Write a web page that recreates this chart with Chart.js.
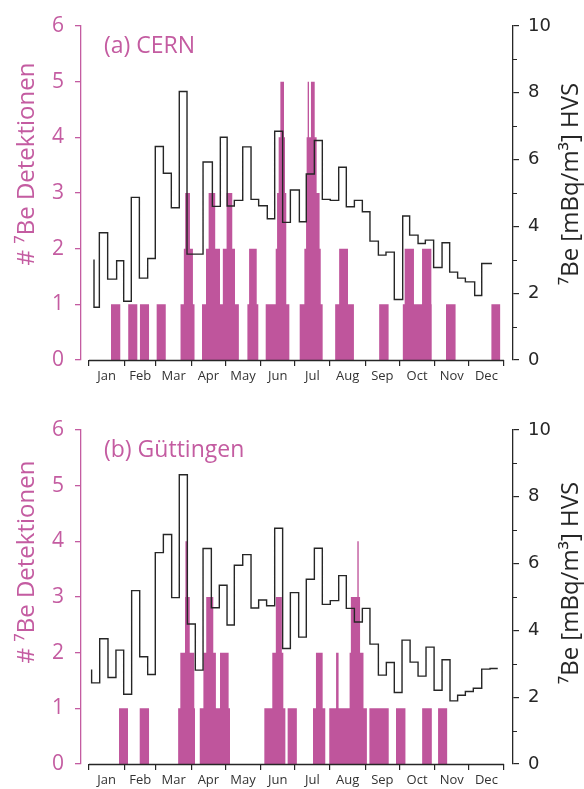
<!DOCTYPE html>
<html>
<head>
<meta charset="utf-8">
<title>7Be Detektionen — CERN / Güttingen</title>
<script src="https://cdn.jsdelivr.net/npm/chart.js@4.4.1/dist/chart.umd.min.js"></script>
<style>
  html, body { margin: 0; padding: 0; background: #fff; overflow: hidden; }
  .panel { position: absolute; left: 0; width: 584px; height: 394px; }
  #panelA { top: 0; }
  #panelB { top: 404px; }
</style>
</head>
<body>
<div class="panel" id="panelA"><canvas id="chartA" width="584" height="394"></canvas></div>
<div class="panel" id="panelB"><canvas id="chartB" width="584" height="394"></canvas></div>

<script>
/* ══════════════════════════════════════════════
   7Be — detections per day (bars) and HVS
   activity (step line), two sites, one year
   ══════════════════════════════════════════════ */

// ── Axis data ──
const monthNames = ['Jan', 'Feb', 'Mar', 'Apr', 'May', 'Jun', 'Jul', 'Aug', 'Sep', 'Oct', 'Nov', 'Dec'];
const monthStarts = [0, 31, 59, 90, 120, 151, 181, 212, 243, 273, 304, 334, 365];
const countTicks = [0, 1, 2, 3, 4, 5, 6];
const hvsTicks = [0, 2, 4, 6, 8, 10];

// ── (a) CERN — HVS weekly values (day = end of sampling week) ──
const cernHvsDays = [4.4, 9.1, 16.4, 24.3, 30.5, 37.2, 44.3, 51.6, 58.3, 65.4, 72.4, 79.4, 86.2, 93.3, 100.3, 108.5, 115.5, 121.5, 127.8, 135.2,
  142.5, 149.2, 156.8, 163.3, 170.3, 177.1, 185.0, 191.1, 198.2, 205.2, 212.2, 219.6, 226.3, 233.4, 240.4, 247.1, 254.5, 261.2, 268.5, 275.9,
  282.0, 289.4, 295.8, 303.1, 310.5, 317.2, 324.2, 331.0, 339.2, 345.4, 354.4];
const cernHvsValues = [3.01, 1.58, 3.81, 2.42, 2.97, 1.76, 4.87, 2.45, 3.04, 6.39, 5.59, 4.56, 8.04, 3.17, 3.17, 5.93, 4.6, 6.67, 4.61, 4.78,
  6.38, 4.81, 4.62, 4.23, 6.85, 4.12, 5.09, 4.14, 5.57, 6.57, 4.81, 4.78, 5.77, 4.59, 4.78, 4.44, 3.56, 3.14, 3.23, 1.81,
  4.31, 3.74, 3.49, 3.59, 2.77, 3.51, 2.63, 2.45, 2.34, 1.93, 2.89];

// ── (a) CERN — number of detections (value holds from day until next change) ──
const cernCountDays = [19.3, 27.5, 34.5, 42.5, 44.8, 52.8, 59.5, 67.5, 80.5, 83.4, 84.6, 88.8, 91.4, 92.8, 99.4, 102.9, 105.2, 111.0, 115.2, 117.7,
  121.0, 126.0, 128.4, 131.8, 139.3, 140.8, 147.5, 148.9, 155.4, 164.2, 165.4, 166.8, 168.3, 171.5, 172.4, 173.5, 176.2, 185.3, 189.4, 190.9,
  191.4, 192.3, 193.5, 195.2, 198.5, 200.2, 202.8, 203.8, 205.5, 216.5, 220.0, 227.8, 233.0, 255.2, 263.5, 276.0, 277.6, 285.8, 292.9, 301.1,
  301.4, 314.0, 322.4, 353.9, 361.8];
const cernCounts = [1, 0, 1, 0, 1, 0, 1, 0, 1, 2, 3, 2, 1, 0, 1, 2, 3, 2, 1, 2,
  3, 2, 1, 0, 1, 2, 1, 0, 1, 2, 3, 4, 5, 4, 3, 1, 0, 1, 2, 3,
  4, 5, 4, 5, 4, 3, 2, 1, 0, 1, 2, 1, 0, 1, 0, 1, 2, 1, 2, 1,
  0, 1, 0, 1, 0];

// ── (b) Güttingen — HVS weekly values ──
const guettHvsDays = [2.3, 9.4, 16.7, 23.7, 30.5, 37.5, 44.6, 51.6, 58.3, 65.4, 72.7, 79.4, 86.5, 93.5, 100.3, 107.6, 114.6, 121.4, 127.8, 135.2,
  142.5, 149.2, 156.2, 163.3, 170.3, 177.1, 184.4, 191.1, 198.2, 205.2, 212.2, 219.6, 226.3, 233.4, 240.4, 247.1, 254.5, 261.5, 268.5, 275.3,
  282.4, 289.4, 296.4, 303.5, 310.5, 317.5, 324.2, 331.0, 338.0, 345.4, 352.7, 359.5];
const guettHvsValues = [2.83, 2.43, 3.75, 2.59, 3.41, 2.09, 5.19, 3.21, 2.68, 6.33, 6.87, 4.98, 8.66, 4.19, 2.81, 6.45, 4.68, 5.35, 4.16, 5.95,
  6.27, 4.67, 4.91, 4.74, 7.06, 3.46, 5.13, 3.8, 5.53, 6.46, 4.78, 4.89, 5.64, 4.66, 4.25, 4.66, 3.59, 2.66, 3.04, 2.14,
  3.71, 3.05, 2.63, 3.5, 2.21, 3.12, 1.89, 2.06, 2.17, 2.27, 2.84, 2.86];

// ── (b) Güttingen — number of detections ──
const guettCountDays = [26.4, 34.3, 44.6, 52.8, 78.4, 80.3, 84.4, 84.8, 86.6, 88.6, 92.6, 93.2, 97.4, 100.6, 103.1, 109.3, 111.6, 115.2, 122.8, 124.0,
  154.2, 161.2, 164.3, 169.6, 170.9, 172.7, 174.7, 182.8, 197.0, 199.6, 205.5, 207.8, 211.3, 217.3, 219.5, 229.2, 230.3, 236.0, 237.2, 238.4,
  241.4, 244.4, 246.6, 263.6, 270.0, 278.3, 293.0, 301.5, 307.0, 315.2];
const guettCounts = [1, 0, 1, 0, 1, 2, 3, 4, 3, 2, 1, 0, 1, 2, 3, 2, 1, 2, 1, 0,
  1, 2, 3, 2, 1, 0, 1, 0, 1, 2, 1, 0, 1, 2, 1, 2, 3, 4, 3, 2,
  1, 0, 1, 0, 1, 0, 1, 0, 1, 0];

// ── Colours ──
const BAR_PINK = '#bf559c';
const TEXT_PINK = '#c45ca1';
const INK = '#262626';

// ── Helpers ──
const toPoints = (xs, ys) => xs.map((x, i) => ({ x, y: ys[i] }));
const monthMids = monthNames.map((m, i) => (monthStarts[i] + monthStarts[i + 1]) / 2);
const xTickValues = [...monthStarts, ...monthMids].sort((a, b) => a - b);
const hvsMinor = Array.from({ length: hvsTicks[hvsTicks.length - 1] + 1 }, (_, i) => i);

// ── Plugin: x baseline, minor HVS ticks and texts ──
const panelDecor = {
  id: 'panelDecor',
  afterDraw(chart, args, opts) {
    const { ctx, chartArea, scales } = chart;
    ctx.save();

    // x axis line only across the year
    const x0 = scales.x.getPixelForValue(monthStarts[0]);
    const x1 = scales.x.getPixelForValue(monthStarts[monthStarts.length - 1]);
    ctx.strokeStyle = INK;
    ctx.lineWidth = 1.3;
    ctx.beginPath();
    ctx.moveTo(x0, chartArea.bottom + 0.5);
    ctx.lineTo(x1, chartArea.bottom + 0.5);
    ctx.stroke();

    // short minor ticks on the HVS axis
    ctx.lineWidth = 1.2;
    ctx.beginPath();
    hvsMinor.filter(v => !hvsTicks.includes(v)).forEach(v => {
      const y = Math.round(scales.hvs.getPixelForValue(v)) + 0.5;
      ctx.moveTo(chartArea.right, y);
      ctx.lineTo(chartArea.right + 4, y);
    });
    ctx.stroke();

    // panel title
    ctx.fillStyle = TEXT_PINK;
    ctx.font = '23px "Open Sans"';
    ctx.textAlign = 'left';
    ctx.textBaseline = 'alphabetic';
    ctx.fillText(opts.title, 104, 53);

    // left axis title
    ctx.save();
    ctx.translate(34, opts.leftTitleY);
    ctx.rotate(-Math.PI / 2);
    ctx.textAlign = 'center';
    ctx.font = '24px "Open Sans"';
    ctx.fillText('# \u2077Be Detektionen', 0, 0);
    ctx.restore();

    // right axis title
    ctx.save();
    ctx.translate(578, opts.rightTitleY);
    ctx.rotate(-Math.PI / 2);
    ctx.textAlign = 'center';
    ctx.fillStyle = INK;
    ctx.font = '24px "Open Sans"';
    ctx.fillText('\u2077Be [mBq/m\u00b3] HVS', 0, 0);
    ctx.restore();

    ctx.restore();
  }
};

// ── Chart builder ──
function buildPanel(canvasId, hvsDays, hvsValues, countDays, counts, decor) {
  return new Chart(document.getElementById(canvasId), {
    type: 'line',
    data: {
      datasets: [
        {
          label: '7Be HVS',
          data: toPoints(hvsDays, hvsValues),
          yAxisID: 'hvs',
          stepped: 'after',
          borderColor: INK,
          borderWidth: 1.4,
          pointRadius: 0,
          fill: false,
          order: 0,
        },
        {
          label: '# 7Be Detektionen',
          data: toPoints(countDays, counts),
          yAxisID: 'y',
          stepped: 'before',
          borderColor: 'rgba(0,0,0,0)',
          borderWidth: 0,
          backgroundColor: BAR_PINK,
          pointRadius: 0,
          fill: 'origin',
          order: 1,
        },
      ]
    },
    options: {
      responsive: false,
      animation: false,
      layout: { padding: { top: 26, left: 0, right: 0, bottom: 0 } },
      plugins: {
        legend: { display: false },
        tooltip: { enabled: false },
        panelDecor: decor,
      },
      scales: {
        x: {
          type: 'linear',
          min: -7.04, max: 372.9,
          afterBuildTicks: s => { s.ticks = xTickValues.map(v => ({ value: v })); },
          afterFit: s => { s.height = 34; },
          border: { display: false },
          grid: {
            drawOnChartArea: false, tickLength: 6, lineWidth: 1.2,
            color: c => (c.tick && monthStarts.includes(c.tick.value)) ? INK : 'rgba(0,0,0,0)',
          },
          ticks: {
            autoSkip: false, maxRotation: 0, padding: 2, color: '#333',
            font: { family: 'Open Sans', size: 13 },
            callback: v => { const i = monthMids.indexOf(v); return i >= 0 ? monthNames[i] : ''; },
          },
        },
        y: {
          position: 'left',
          min: countTicks[0], max: countTicks[countTicks.length - 1],
          afterBuildTicks: s => { s.ticks = countTicks.map(v => ({ value: v })); },
          afterFit: s => { s.width = 81; },
          border: { color: TEXT_PINK, width: 1.3 },
          grid: { drawOnChartArea: false, tickLength: 6, color: TEXT_PINK, lineWidth: 1.3 },
          ticks: { color: TEXT_PINK, padding: 11, font: { family: 'Open Sans', size: 21 } },
        },
        hvs: {
          position: 'right',
          min: 0, max: hvsTicks[hvsTicks.length - 1],
          afterBuildTicks: s => { s.ticks = hvsTicks.map(v => ({ value: v })); },
          afterFit: s => { s.width = 71; },
          border: { color: INK, width: 1.3 },
          grid: { drawOnChartArea: false, tickLength: 6, color: INK, lineWidth: 1.2 },
          ticks: {
            color: INK, padding: 9,
            font: { family: 'DejaVu Sans', size: 18 },
          },
        },
      }
    },
    plugins: [panelDecor]
  });
}

buildPanel('chartA', cernHvsDays, cernHvsValues, cernCountDays, cernCounts,
  { title: '(a) CERN', leftTitleY: 164, rightTitleY: 184 });
buildPanel('chartB', guettHvsDays, guettHvsValues, guettCountDays, guettCounts,
  { title: '(b) Güttingen', leftTitleY: 158, rightTitleY: 179 });
</script>
</body>
</html>
